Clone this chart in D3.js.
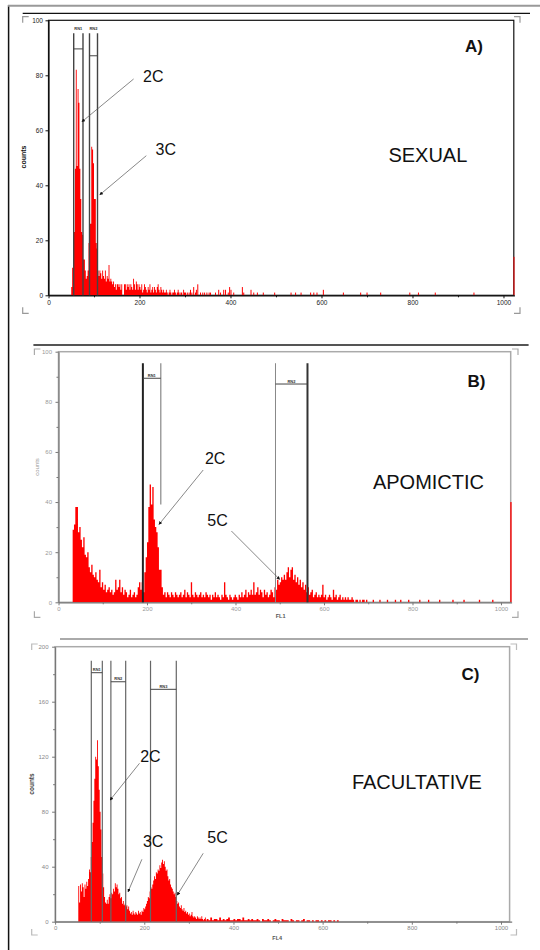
<!DOCTYPE html>
<html lang="en">
<head>
  <meta charset="UTF-8">
  <title>Flow cytometry histograms</title>
  <script src="https://d3js.org/d3.v7.min.js"></script>
  <style>
    body { margin: 0; background: #fff; }
    svg { display: block; font-family: "Liberation Sans", Arial, sans-serif; }
  </style>
</head>
<body>
  <div id="chart"></div>
  <script>
    // ---- data (counts per channel bin) ----
    const channelMax = 1024;
    const xTickValues = [0, 200, 400, 600, 800, 1000];
    const xMinorValues = [100, 300, 500, 700, 900];
    const gateNames = ["RN1", "RN2", "RN3"];

    // A) sexual
    const sexualStart = 50, sexualStep = 2;
    const sexualCounts = [
      3, 10, 11, 23, 46, 82, 47, 75, 70, 46, 35, 23, 22, 13, 13, 9, 6, 7, 9, 19, 26, 26, 54, 53, 48, 35, 35, 19, 17, 9,
      7, 9, 8, 6, 9, 7, 6, 9, 5, 7, 6, 11, 5, 6, 5, 4, 5, 3, 4, 2, 4, 4, 3, 4, 2, 4, 0, 0, 4, 4,
      2, 4, 3, 4, 2, 4, 3, 2, 6, 4, 2, 5, 4, 2, 4, 3, 2, 4, 1, 2, 4, 3, 2, 1, 3, 2, 4, 1, 2, 3,
      1, 3, 2, 1, 3, 4, 2, 1, 3, 2, 1, 2, 1, 1, 2, 1, 0, 1, 2, 1, 0, 1, 1, 2, 1, 0, 1, 2, 1, 0,
      1, 1, 0, 2, 1
    ];
    const sexualTailCh = [300, 304, 308, 311, 314, 318, 322, 324, 327, 333, 338, 342, 347, 352, 355, 366, 373, 377, 384, 388,
      394, 397, 400, 406, 425, 428, 444, 450, 458, 471, 496, 532, 542, 554, 575, 582, 589, 603, 647, 685, 699, 729, 793, 812,
      849, 934, 1022];
    const sexualTailCounts = [1, 1, 1, 2, 1, 3, 1, 2, 4, 1, 1, 1, 1, 1, 1, 1, 2, 1, 2, 2,
      1, 3, 2, 1, 3, 1, 2, 1, 1, 1, 1, 1, 1, 1, 1, 1, 1, 2, 1, 1, 1, 1, 1, 1,
      1, 1, 14];
    const sexualYTicks = [0, 20, 40, 60, 80, 100];
    const sexualGateLo = [55.4, 90.1];
    const sexualGateHi = [75.8, 107.7];
    const sexualGateBar = [89.6, 87.1];

    // B) apomictic
    const apoStart = 32, apoStep = 3;
    const apoCounts = [
      29, 31, 38, 38, 28, 30, 25, 22, 26, 19, 18, 20, 14, 12, 15, 11, 10, 12, 9, 8,
      13, 6, 8, 5, 7, 4, 5, 6, 4, 5, 3, 4, 9, 5, 6, 9, 4, 6, 3, 5,
      4, 2, 3, 5, 2, 3, 4, 2, 3, 6, 8, 5, 8, 4, 12, 18, 24, 38, 47, 39,
      46, 33, 30, 28, 22, 13, 13, 6, 3, 4, 2, 4, 3, 2, 4, 3, 2, 4, 3, 2,
      3, 4, 2, 3, 5, 2, 4, 3, 2, 8, 3, 2, 4, 3, 2, 3, 4, 2, 3, 2,
      4, 3, 2, 3, 1, 3, 2, 4, 2, 3, 2, 1, 3, 2, 8, 3, 2, 1, 3, 2,
      1, 2, 3, 2, 1, 3, 2, 4, 2, 3, 5, 2, 4, 3, 5, 3, 8, 3, 4, 6,
      3, 5, 4, 2, 5, 3, 4, 2, 3, 5, 4, 2, 6, 5, 9, 7, 8, 10, 9, 11,
      9, 12, 14, 10, 13, 14, 9, 11, 8, 10, 7, 9, 6, 8, 5, 7, 4, 6, 3, 4,
      5, 2, 3, 4, 2, 3, 2, 3, 7, 2, 3, 1, 2, 3, 2, 1, 5, 2, 3, 1,
      2, 3, 1, 2, 1, 2, 1, 2, 1, 1, 2, 1, 0, 1, 1, 0, 1, 0, 1, 1,
      0, 1, 0
    ];
    const apoTailCh = [710, 725, 742, 760, 772, 790, 815, 835, 860, 890, 915, 950, 980, 1021];
    const apoTailCounts = [1, 1, 1, 1, 1, 1, 1, 1, 1, 1, 1, 1, 1, 40];
    const apoYTicks = [0, 20, 40, 60, 80, 100];
    const apoYMinor = [10, 30, 50, 70, 90];
    const apoGateLo = [190.7, 490.4];
    const apoGateHi = [231.2, 562.7];
    const apoGateBar = [89.4, 87.1];

    // C) facultative
    const facStart = 52, facStep = 2;
    const facCounts = [
      26, 14, 27, 22, 28, 25, 18, 27, 24, 29, 26, 31, 38, 36, 47, 58, 72, 88, 104, 120,
      118, 132, 113, 96, 80, 67, 47, 35, 25, 18, 14, 13, 16, 13, 18, 20, 17, 21, 20, 24,
      22, 28, 25, 27, 24, 20, 21, 17, 18, 13, 15, 12, 13, 11, 12, 9, 11, 8, 6, 7,
      5, 8, 6, 5, 7, 6, 5, 8, 6, 7, 5, 8, 7, 10, 9, 11, 13, 15, 18, 17,
      22, 25, 24, 27, 30, 33, 31, 36, 35, 38, 37, 41, 39, 43, 45, 42, 44, 40, 37, 38,
      33, 30, 31, 27, 25, 24, 22, 20, 21, 18, 15, 13, 14, 11, 10, 12, 9, 8, 10, 7,
      8, 6, 7, 5, 6, 4, 5, 7, 4, 3, 4, 3, 2, 4, 3, 2, 3, 2, 4, 2,
      1, 2, 3, 1
    ];
    const facTailStart = 340, facTailStep = 4;
    const facTailCounts = [
      2, 1, 3, 1, 2, 2, 1, 3, 1, 2, 1, 2, 3, 1, 1, 2, 1, 2, 2, 1, 3, 1, 1, 2, 1,
      2, 1, 1, 2, 1, 0, 2, 1, 1, 2, 1, 0, 1, 2, 1, 1, 0, 2, 1, 1, 1, 0, 2, 1, 0,
      1, 1, 0, 1, 2, 0, 1, 1, 0, 1, 0, 1, 1, 0, 1, 0, 1, 0, 1, 1, 0, 1, 0, 1, 0
    ];
    const facYTicks = [0, 40, 80, 120, 160, 200];
    const facYMinor = [20, 60, 100, 140, 180];
    const facGateLo = [81.2, 125.1, 214];
    const facGateHi = [105.9, 158.3, 271.8];
    const facGateBar = [181.1, 174.5, 169];

    // ---- panel layout ----
    const panels = [
      {
        dense: [{ start: sexualStart, step: sexualStep, counts: sexualCounts }],
        tailCh: sexualTailCh, tailCounts: sexualTailCounts, tailStep: 2,
        yMax: 100, yTicks: sexualYTicks, yMinor: [],
        left: 48.5, right: 514.4, top: 20.3, bottom: 295.3, frameRight: 513.8,
        frameColor: "#111", frameWidth: 1.2, axisColor: "#111",
        tickColor: "#222", tickFont: 6.5, yLabelEnd: 43, xLabelBase: 305,
        yLabel: { text: "counts", x: 26, y: 157, size: 7, weight: "bold", color: "#111" },
        xLabel: null,
        gates: { lo: sexualGateLo, hi: sexualGateHi, bar: sexualGateBar, top: 95.3, stopHi: [0, 0],
          wLo: [1.4, 1.4], wHi: [1.4, 1.4], cLo: ["#444", "#444"], cHi: ["#444", "#444"], labelAtTop: true },
        corners: { x0: 22.7, x1: 520, y0: 16.7, y1: 313.3, color: "#999" },
        title: { text: "A)", x: 465, y: 51.7 },
        name: { text: "SEXUAL", x: 388.4, y: 161.7 },
        notes: [{ text: "2C", x: 143, y: 81.7 }, { text: "3C", x: 155.6, y: 155 }],
        arrows: [[133.6, 79, 82, 121.7], [146.3, 155.7, 99.9, 194.7]]
      },
      {
        dense: [{ start: apoStart, step: apoStep, counts: apoCounts }],
        tailCh: apoTailCh, tailCounts: apoTailCounts, tailStep: 3,
        yMax: 100, yTicks: apoYTicks, yMinor: apoYMinor,
        left: 58.5, right: 511.6, top: 351.7, bottom: 602.3, frameRight: 510.7,
        frameColor: "#aaa", frameWidth: 1.5, axisColor: "#777",
        tickColor: "#999", tickFont: 6, yLabelEnd: 52, xLabelBase: 611.5,
        yLabel: { text: "counts", x: 39, y: 467, size: 6, weight: "normal", color: "#999" },
        xLabel: { text: "FL1", x: 280.6, y: 618 },
        gates: { lo: apoGateLo, hi: apoGateHi, bar: apoGateBar, top: 95.4, stopHi: [39, 0],
          wLo: [2, 1], wHi: [1.2, 2], cLo: ["#222", "#888"], cHi: ["#888", "#333"], labelAtTop: false },
        corners: { x0: 34.4, x1: 518, y0: 349, y1: 617.3, color: "#aaa" },
        title: { text: "B)", x: 467.6, y: 387.3 },
        name: { text: "APOMICTIC", x: 372.9, y: 489.3 },
        notes: [{ text: "2C", x: 204.9, y: 464 }, { text: "5C", x: 207.3, y: 525.7 }],
        arrows: [[203.2, 470, 159.1, 524.3], [231.4, 531, 279.6, 579.3]]
      },
      {
        dense: [{ start: facStart, step: facStep, counts: facCounts },
                { start: facTailStart, step: facTailStep, counts: facTailCounts }],
        tailCh: [], tailCounts: [], tailStep: 2,
        yMax: 200, yTicks: facYTicks, yMinor: facYMinor,
        left: 55.1, right: 511.7, top: 646.7, bottom: 921.7, frameRight: 509.6,
        frameColor: "#aaa", frameWidth: 1.5, axisColor: "#777",
        tickColor: "#888", tickFont: 6, yLabelEnd: 48.5, xLabelBase: 930.5,
        yLabel: { text: "counts", x: 34.4, y: 784, size: 6.5, weight: "bold", color: "#444" },
        xLabel: { text: "FL4", x: 277.2, y: 940 },
        gates: { lo: facGateLo, hi: facGateHi, bar: facGateBar, top: 189.8, stopHi: [0, 0, 0],
          wLo: [1.2, 1.2, 1.2], wHi: [1.2, 1.2, 1.2], cLo: ["#666", "#666", "#666"], cHi: ["#666", "#666", "#666"], labelAtTop: false },
        corners: { x0: 31.7, x1: 516.5, y0: 644, y1: 935, color: "#bbb" },
        title: { text: "C)", x: 461.4, y: 680 },
        name: { text: "FACULTATIVE", x: 351.9, y: 789.3 },
        notes: [{ text: "2C", x: 140.2, y: 761.7 }, { text: "3C", x: 142.9, y: 846.7 }, { text: "5C", x: 207.3, y: 843.3 }],
        arrows: [[139.5, 763.3, 110.2, 800], [141.9, 859.3, 128.1, 891.7], [203.2, 853.3, 177.3, 895]]
      }
    ];

    const svg = d3.select("#chart").append("svg")
      .attr("width", 540)
      .attr("height", 950);

    svg.append("defs").append("marker")
      .attr("id", "arrow")
      .attr("viewBox", "0 0 6 6")
      .attr("refX", 5).attr("refY", 3)
      .attr("markerWidth", 5).attr("markerHeight", 5)
      .attr("orient", "auto")
      .append("path")
        .attr("d", "M0,0L6,3L0,6Z")
        .attr("fill", "#111");

    // page decorations (scan borders)
    svg.append("line").attr("x1", 8.6).attr("x2", 8.6).attr("y1", 5).attr("y2", 950)
      .attr("stroke", "#111").attr("stroke-width", 1.5);
    svg.append("line").attr("x1", 8).attr("x2", 540).attr("y1", 5.7).attr("y2", 5.7)
      .attr("stroke", "#999").attr("stroke-width", 2);
    svg.append("line").attr("x1", 22.7).attr("x2", 530).attr("y1", 13.3).attr("y2", 13.3)
      .attr("stroke", "#111").attr("stroke-width", 1.3);
    svg.append("line").attr("x1", 33.4).attr("x2", 528.6).attr("y1", 345).attr("y2", 345)
      .attr("stroke", "#555").attr("stroke-width", 2);
    svg.append("line").attr("x1", 60).attr("x2", 528).attr("y1", 639).attr("y2", 639)
      .attr("stroke", "#aaa").attr("stroke-width", 2);

    panels.forEach(drawPanel);

    function drawPanel(p) {
      const g = svg.append("g");
      const x = d3.scaleLinear().domain([0, channelMax]).range([p.left, p.right]);
      const y = d3.scaleLinear().domain([0, p.yMax]).range([p.bottom, p.top]);

      // corner brackets
      const c = p.corners, arm = 6;
      [[c.x0, c.y0, 1, 1], [c.x1, c.y0, -1, 1], [c.x0, c.y1, 1, -1], [c.x1, c.y1, -1, -1]].forEach(k => {
        g.append("path")
          .attr("d", `M${k[0] + k[2] * arm},${k[1]}H${k[0]}V${k[1] + k[3] * arm}`)
          .attr("fill", "none").attr("stroke", c.color).attr("stroke-width", 1.2);
      });

      // frame
      g.append("rect")
        .attr("x", p.left).attr("y", p.top)
        .attr("width", p.frameRight - p.left).attr("height", p.bottom - p.top)
        .attr("fill", "none").attr("stroke", p.frameColor).attr("stroke-width", p.frameWidth);

      // histogram, dense runs as step areas
      const area = d3.area()
        .x(d => x(d[0]))
        .y0(y(0))
        .y1(d => y(d[1]))
        .curve(d3.curveStepAfter);
      p.dense.forEach(run => {
        const pts = run.counts.map((v, i) => [run.start + i * run.step, v]);
        pts.push([run.start + run.counts.length * run.step, 0]);
        g.append("path").datum(pts).attr("d", area).attr("fill", "#f00");
      });

      // sparse tail as single bars
      const tail = p.tailCh.map((ch, i) => ({ ch: ch, v: p.tailCounts[i] }));
      g.append("g").selectAll("rect")
        .data(tail)
        .join("rect")
          .attr("x", d => x(d.ch))
          .attr("y", d => y(d.v))
          .attr("width", Math.max(1, x(p.tailStep) - x(0)))
          .attr("height", d => y(0) - y(d.v))
          .attr("fill", "#f00");

      // axes
      const gx = g.append("g")
        .attr("transform", `translate(0,${p.bottom})`)
        .call(d3.axisBottom(x).tickValues(xTickValues).tickSize(3).tickSizeOuter(0)
          .tickPadding(2).tickFormat(d3.format("d")));
      gx.selectAll("text").attr("font-size", p.tickFont).attr("fill", p.tickColor)
        .attr("y", p.xLabelBase - p.bottom).attr("dy", 0).attr("font-family", "Liberation Sans, Arial, sans-serif");
      g.append("g")
        .attr("transform", `translate(0,${p.bottom})`)
        .call(d3.axisBottom(x).tickValues(xMinorValues).tickSize(2).tickSizeOuter(0).tickFormat(""))
        .select(".domain").remove();

      const gy = g.append("g")
        .attr("transform", `translate(${p.left},0)`)
        .call(d3.axisLeft(y).tickValues(p.yTicks).tickSize(3).tickSizeOuter(0).tickFormat(d3.format("d")));
      gy.selectAll("text").attr("font-size", p.tickFont).attr("fill", p.tickColor)
        .attr("x", p.yLabelEnd - p.left).attr("font-family", "Liberation Sans, Arial, sans-serif");
      if (p.yMinor.length) {
        g.append("g")
          .attr("transform", `translate(${p.left},0)`)
          .call(d3.axisLeft(y).tickValues(p.yMinor).tickSize(2).tickFormat(""))
          .select(".domain").remove();
      }
      g.selectAll(".domain").attr("stroke", p.axisColor).attr("stroke-width", 1.2);
      g.selectAll(".tick line").attr("stroke", p.axisColor);

      g.append("text")
        .attr("transform", `translate(${p.yLabel.x},${p.yLabel.y}) rotate(-90)`)
        .attr("text-anchor", "middle")
        .attr("font-size", p.yLabel.size)
        .attr("font-weight", p.yLabel.weight)
        .attr("fill", p.yLabel.color)
        .text(p.yLabel.text);
      if (p.xLabel) {
        g.append("text")
          .attr("x", p.xLabel.x).attr("y", p.xLabel.y)
          .attr("text-anchor", "middle")
          .attr("font-size", 5.5).attr("font-weight", "bold").attr("fill", "#555")
          .text(p.xLabel.text);
      }

      // gate markers
      const gt = p.gates;
      gt.lo.forEach((lo, i) => {
        const hi = gt.hi[i];
        g.append("line")
          .attr("x1", x(lo)).attr("x2", x(lo)).attr("y1", y(gt.top)).attr("y2", y(0))
          .attr("stroke", gt.cLo[i]).attr("stroke-width", gt.wLo[i]);
        g.append("line")
          .attr("x1", x(hi)).attr("x2", x(hi)).attr("y1", y(gt.top)).attr("y2", y(gt.stopHi[i]))
          .attr("stroke", gt.cHi[i]).attr("stroke-width", gt.wHi[i]);
        g.append("line")
          .attr("x1", x(lo)).attr("x2", x(hi)).attr("y1", y(gt.bar[i])).attr("y2", y(gt.bar[i]))
          .attr("stroke", "#444").attr("stroke-width", 1);
        g.append("text")
          .attr("x", (x(lo) + x(hi)) / 2)
          .attr("y", gt.labelAtTop ? y(gt.top) - 3 : y(gt.bar[i]) - 1.5)
          .attr("text-anchor", "middle")
          .attr("font-size", 4).attr("font-weight", "bold").attr("fill", "#333")
          .text(gateNames[i]);
      });

      // annotations
      p.arrows.forEach(a => {
        g.append("line")
          .attr("x1", a[0]).attr("y1", a[1]).attr("x2", a[2]).attr("y2", a[3])
          .attr("stroke", "#555").attr("stroke-width", 0.7)
          .attr("marker-end", "url(#arrow)");
      });
      p.notes.forEach(n => {
        g.append("text").attr("x", n.x).attr("y", n.y)
          .attr("font-size", 16).attr("fill", "#111").text(n.text);
      });
      g.append("text").attr("x", p.name.x).attr("y", p.name.y)
        .attr("font-size", 20).attr("fill", "#111").text(p.name.text);
      g.append("text").attr("x", p.title.x).attr("y", p.title.y)
        .attr("font-size", 17).attr("font-weight", "bold").attr("fill", "#111").text(p.title.text);
    }
  </script>
</body>
</html>
